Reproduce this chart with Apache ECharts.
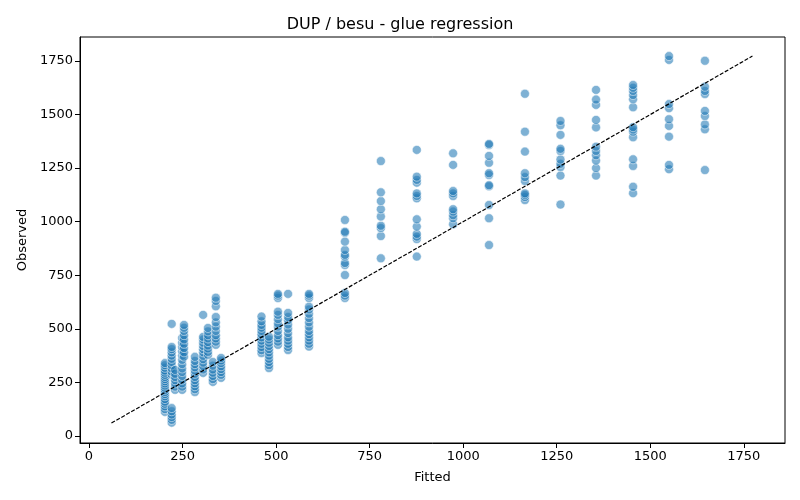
<!DOCTYPE html>
<html>
<head>
<meta charset="utf-8">
<script src="https://cdn.jsdelivr.net/npm/echarts@6/dist/echarts.min.js"></script>
<style>
  html, body { margin: 0; padding: 0; background: #fff; }
  #chart { width: 800px; height: 500px; }
</style>
</head>
<body>
<div id="chart"></div>
<script>
// fitted value of each column of points
const fittedCols = [203, 221, 230, 249, 254, 283, 305, 318, 331, 339, 353,
  461, 481, 505, 532, 588, 684, 780, 876, 973, 1069, 1165, 1260, 1355, 1454, 1550, 1646];

// observed values per column, same order as fittedCols
const observedCols = [
  [112, 125, 138, 150, 160, 172, 185, 195, 205, 215, 225, 235, 245, 255, 265, 275, 285, 295, 305, 318, 330, 340],
  [62, 75, 88, 100, 115, 130, 285, 300, 315, 330, 345, 360, 375, 390, 405, 415, 523],
  [215, 230, 245, 260, 275, 290, 308],
  [215, 230, 245, 262, 280, 298, 315, 335, 355, 375, 395, 415, 435, 457],
  [370, 390, 410, 430, 450, 470, 490, 505, 518],
  [205, 218, 232, 246, 260, 275, 290, 305, 320, 335, 350, 369],
  [294, 310, 326, 342, 358, 374, 390, 405, 420, 435, 450, 462, 565],
  [378, 392, 408, 422, 438, 455, 470, 488, 504],
  [252, 265, 280, 295, 310, 328, 345],
  [425, 440, 455, 470, 490, 510, 530, 555, 605, 630, 645],
  [271, 285, 298, 312, 325, 340, 352, 364],
  [387, 400, 415, 430, 445, 460, 475, 490, 505, 518, 535, 557],
  [317, 330, 345, 360, 375, 390, 405, 420, 435, 450, 463],
  [425, 440, 455, 470, 490, 510, 525, 545, 565, 580, 644, 655, 663],
  [401, 415, 430, 445, 460, 480, 500, 520, 540, 555, 574, 663],
  [417, 430, 445, 460, 475, 490, 510, 530, 550, 570, 590, 603, 644, 655, 663],
  [644, 655, 667, 751, 798, 807, 837, 845, 868, 907, 948, 953, 1008],
  [829, 933, 970, 981, 1024, 1058, 1096, 1137, 1283],
  [837, 919, 930, 943, 977, 1011, 1109, 1120, 1132, 1182, 1195, 1210, 1335],
  [988, 1016, 1030, 1047, 1058, 1120, 1132, 1143, 1265, 1319],
  [891, 1016, 1078, 1165, 1170, 1218, 1226, 1275, 1307, 1358, 1363],
  [1101, 1115, 1125, 1132, 1190, 1208, 1226, 1327, 1420, 1597],
  [1080, 1215, 1255, 1270, 1290, 1330, 1340, 1405, 1450, 1470],
  [1215, 1250, 1285, 1310, 1330, 1350, 1440, 1475, 1545, 1570, 1615],
  [1133, 1163, 1260, 1291, 1394, 1420, 1430, 1441, 1534, 1571, 1591, 1610, 1625, 1638],
  [1245, 1265, 1397, 1447, 1478, 1530, 1549, 1755, 1773],
  [1241, 1431, 1454, 1493, 1517, 1596, 1610, 1630, 1751]
];

// identity reference line ends
const diagLine = [60, 1773];

const tickValues = [0, 250, 500, 750, 1000, 1250, 1500, 1750];

const points = [];
fittedCols.forEach(function (fx, i) {
  observedCols[i].forEach(function (oy) { points.push([fx, oy]); });
});

const font = 'DejaVu Sans';
const plainNum = function (v) { return String(v); };
const chart = echarts.init(document.getElementById('chart'), null, { renderer: 'canvas' });

chart.setOption({
  animation: false,
  backgroundColor: '#fff',
  title: {
    text: 'DUP / besu - glue regression',
    left: 'center',
    top: 12,
    textStyle: { fontFamily: font, fontSize: 16, fontWeight: 'normal', color: '#000' }
  },
  grid: {
    left: 80, right: 15, top: 37, bottom: 57,
    show: true, borderColor: '#000', borderWidth: 1, backgroundColor: 'transparent'
  },
  xAxis: {
    type: 'value',
    min: -24, max: 1860,
    name: 'Fitted',
    nameLocation: 'middle',
    nameGap: 28,
    nameTextStyle: { fontFamily: font, fontSize: 13, color: '#000' },
    axisLine: { show: true, onZero: false, lineStyle: { color: '#000', width: 1 } },
    axisTick: { show: true, length: 5, lineStyle: { color: '#000' }, customValues: tickValues },
    axisLabel: { fontFamily: font, fontSize: 13, color: '#000', margin: 7, customValues: tickValues, formatter: plainNum },
    splitLine: { show: false }
  },
  yAxis: {
    type: 'value',
    min: -33, max: 1862,
    name: 'Observed',
    nameLocation: 'middle',
    nameGap: 49,
    nameRotate: 90,
    nameTextStyle: { fontFamily: font, fontSize: 13, color: '#000' },
    axisLine: { show: true, onZero: false, lineStyle: { color: '#000', width: 1 } },
    axisTick: { show: true, length: 5, lineStyle: { color: '#000' }, customValues: tickValues },
    axisLabel: { fontFamily: font, fontSize: 13, color: '#000', margin: 7, customValues: tickValues, formatter: plainNum },
    splitLine: { show: false }
  },
  series: [
    {
      type: 'scatter',
      data: points,
      symbolSize: 9,
      itemStyle: { color: 'rgba(31,119,180,0.72)', borderColor: 'rgba(255,255,255,0.8)', borderWidth: 0.8 }
    },
    {
      type: 'line',
      data: [[diagLine[0], diagLine[0]], [diagLine[1], diagLine[1]]],
      symbol: 'none',
      lineStyle: { color: '#000', width: 1.2, type: [4, 1.7] },
      z: 3
    }
  ]
});
</script>
</body>
</html>
